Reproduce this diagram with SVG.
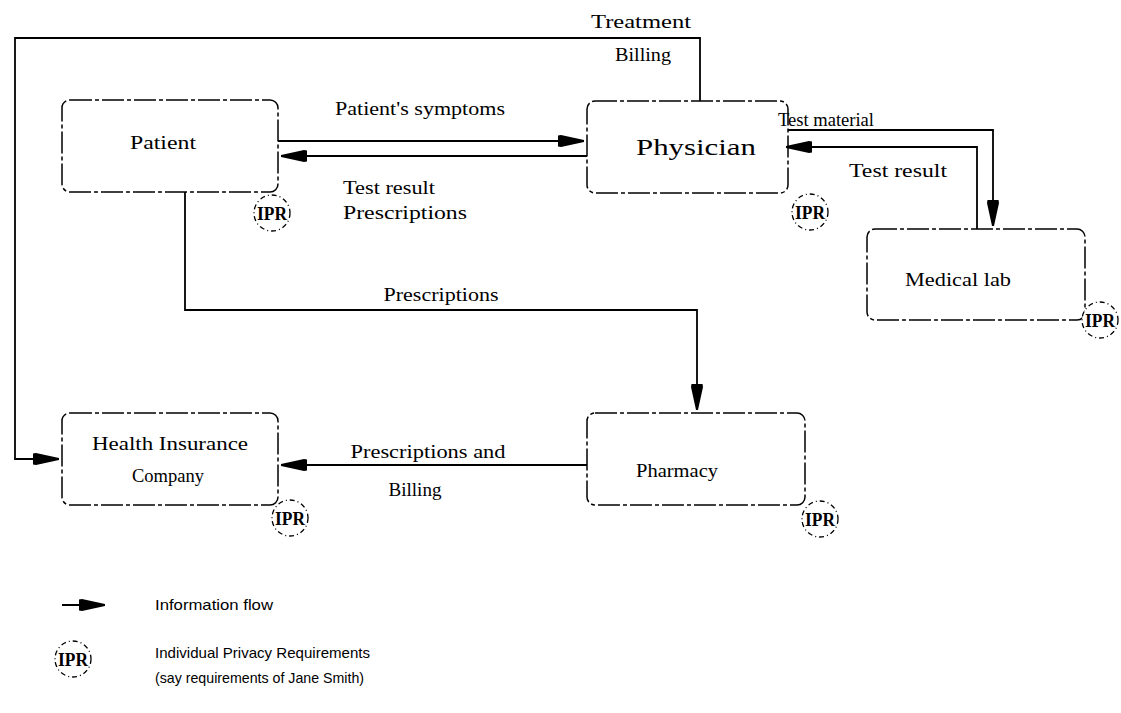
<svg xmlns="http://www.w3.org/2000/svg" width="1121" height="713" viewBox="0 0 1121 713">
<style>
.box{fill:none;stroke:#000;stroke-width:1.5;stroke-dasharray:22 3 4 3}
.ipr{fill:#fff;stroke:#000;stroke-width:1.3;stroke-dasharray:5 3 1 3}
.ipt{font-family:"Liberation Serif",serif;font-size:19px;font-weight:bold;text-anchor:middle}
.nt{font-family:"Liberation Serif",serif;font-size:19px;text-anchor:middle}
.lb{font-family:"Liberation Serif",serif;font-size:18px;text-anchor:middle}
.lg{font-family:"Liberation Sans",sans-serif;font-size:15px}
.flow{fill:none;stroke:#000;stroke-width:1.8;marker-end:url(#ah)}
</style>
<defs>
<marker id="ah" markerUnits="userSpaceOnUse" markerWidth="30" markerHeight="16" refX="26" refY="8" orient="auto">
<path d="M0,2.5 L3,2 L26,7 L26,9 L3,14 L0,13.5 Z" fill="#000"/>
</marker>
</defs>
<rect width="1121" height="713" fill="#fff"/>
<g id="connectors">
<path class="flow" d="M700,101 V38 H15 V459 H59"/>
<path class="flow" d="M278,141 H584"/>
<path class="flow" d="M587,156 H281"/>
<path class="flow" d="M788,130 H993 V226"/>
<path class="flow" d="M977,229 V147 H786"/>
<path class="flow" d="M185,192 V310 H697 V410"/>
<path class="flow" d="M587,465 H281"/>
</g>
<g id="labels">
<text class="lb" x="641" y="28" textLength="100" lengthAdjust="spacingAndGlyphs">Treatment</text>
<text class="lb" x="643" y="61" textLength="56" lengthAdjust="spacingAndGlyphs">Billing</text>
<text class="lb" x="420" y="115" textLength="170" lengthAdjust="spacingAndGlyphs">Patient's symptoms</text>
<text class="lb" x="389" y="194" textLength="92" lengthAdjust="spacingAndGlyphs">Test result</text>
<text class="lb" x="405" y="219" textLength="124" lengthAdjust="spacingAndGlyphs">Prescriptions</text>
<text class="lb" x="826" y="126" textLength="96" lengthAdjust="spacingAndGlyphs">Test material</text>
<text class="lb" x="898" y="177" textLength="98" lengthAdjust="spacingAndGlyphs">Test result</text>
<text class="lb" x="441" y="301" textLength="115" lengthAdjust="spacingAndGlyphs">Prescriptions</text>
<text class="lb" x="428" y="458" textLength="155" lengthAdjust="spacingAndGlyphs">Prescriptions and</text>
<text class="lb" x="415" y="496" textLength="53" lengthAdjust="spacingAndGlyphs">Billing</text>
</g>
<g id="patient">
<rect class="box" x="62" y="100" width="216" height="92" rx="8"/>
<text class="nt" x="163" y="149" textLength="66" lengthAdjust="spacingAndGlyphs">Patient</text>
<circle class="ipr" cx="272" cy="213" r="18"/>
<text class="ipt" x="272" y="220" textLength="30" lengthAdjust="spacingAndGlyphs">IPR</text>
</g>
<g id="physician">
<rect class="box" x="587" y="101" width="201" height="92" rx="8"/>
<text class="nt" x="696" y="155" style="font-size:24px" textLength="120" lengthAdjust="spacingAndGlyphs">Physician</text>
<circle class="ipr" cx="810" cy="212" r="18"/>
<text class="ipt" x="810" y="219" textLength="30" lengthAdjust="spacingAndGlyphs">IPR</text>
</g>
<g id="medical-lab">
<rect class="box" x="867" y="229" width="218" height="91" rx="8"/>
<text class="nt" x="958" y="286" textLength="106" lengthAdjust="spacingAndGlyphs">Medical lab</text>
<circle class="ipr" cx="1100" cy="320" r="18"/>
<text class="ipt" x="1100" y="327" textLength="30" lengthAdjust="spacingAndGlyphs">IPR</text>
</g>
<g id="health-insurance">
<rect class="box" x="62" y="413" width="216" height="92" rx="8"/>
<text class="nt" x="170" y="450" textLength="156" lengthAdjust="spacingAndGlyphs">Health Insurance</text>
<text class="nt" x="168" y="482" textLength="72" lengthAdjust="spacingAndGlyphs">Company</text>
<circle class="ipr" cx="290" cy="518" r="18"/>
<text class="ipt" x="290" y="525" textLength="30" lengthAdjust="spacingAndGlyphs">IPR</text>
</g>
<g id="pharmacy">
<rect class="box" x="587" y="413" width="218" height="92" rx="8"/>
<text class="nt" x="677" y="477" textLength="82" lengthAdjust="spacingAndGlyphs">Pharmacy</text>
<circle class="ipr" cx="820" cy="519" r="18"/>
<text class="ipt" x="820" y="526" textLength="30" lengthAdjust="spacingAndGlyphs">IPR</text>
</g>
<g id="legend">
<path class="flow" d="M62,605 H105"/>
<text class="lg" x="155" y="610" textLength="118" lengthAdjust="spacingAndGlyphs">Information flow</text>
<circle class="ipr" cx="73" cy="659" r="18"/>
<text class="ipt" x="73" y="666" textLength="30" lengthAdjust="spacingAndGlyphs">IPR</text>
<text class="lg" x="155" y="658" textLength="215" lengthAdjust="spacingAndGlyphs">Individual Privacy Requirements</text>
<text class="lg" x="155" y="683" textLength="209" lengthAdjust="spacingAndGlyphs">(say requirements of Jane Smith)</text>
</g>
</svg>
